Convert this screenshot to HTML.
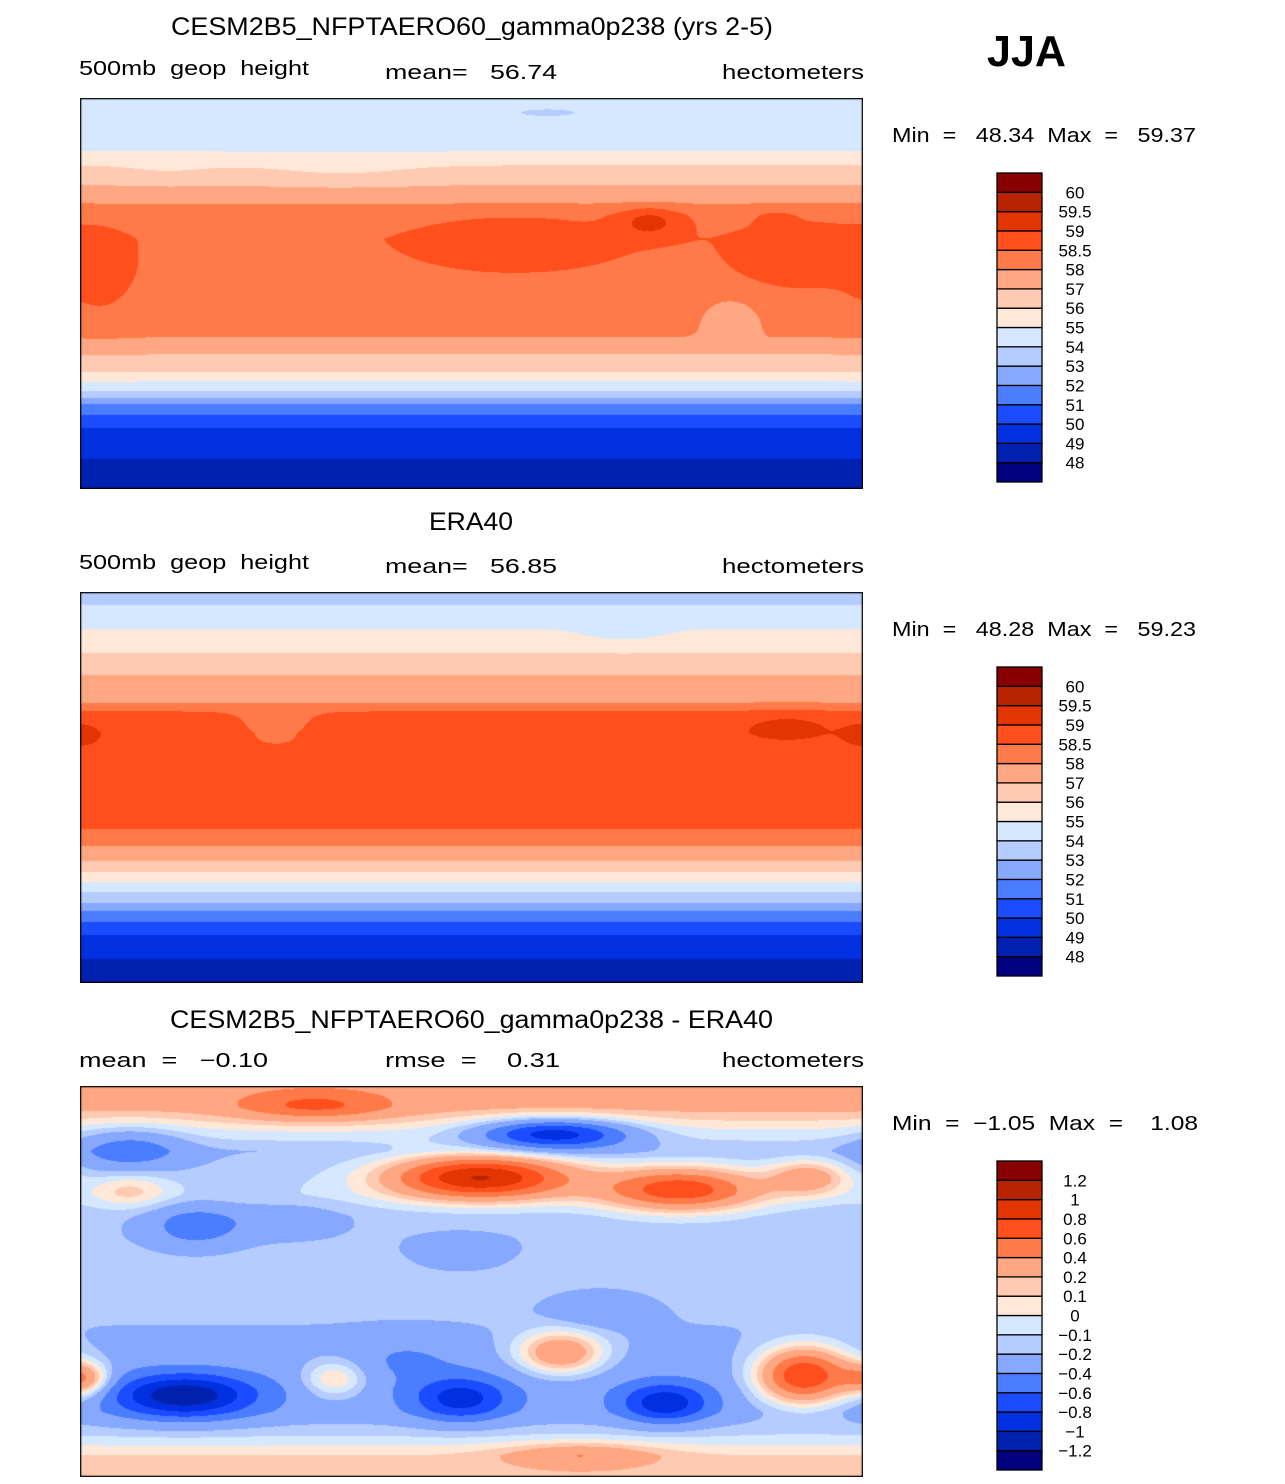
<!DOCTYPE html>
<html><head><meta charset="utf-8">
<style>
body{margin:0;background:#fff;width:1285px;height:1484px;position:relative;overflow:hidden;font-family:"Liberation Sans",sans-serif}
canvas{position:absolute;left:80px;width:783px;height:391px}
svg{position:absolute;left:0;top:0}
svg text{white-space:pre}
</style></head><body>
<canvas id="m1" width="783" height="391" style="top:98px"></canvas>
<canvas id="m2" width="783" height="391" style="top:592px"></canvas>
<canvas id="m3" width="783" height="391" style="top:1086px"></canvas>
<svg id="ov" width="1285" height="1484" font-family="Liberation Sans, sans-serif">
<text x="171" y="35" font-size="25" textLength="602" lengthAdjust="spacingAndGlyphs">CESM2B5_NFPTAERO60_gamma0p238 (yrs 2-5)</text>
<text x="987" y="66" font-size="44" font-weight="bold" textLength="79" lengthAdjust="spacingAndGlyphs">JJA</text>
<text x="79" y="75" font-size="20" textLength="230" lengthAdjust="spacingAndGlyphs">500mb  geop  height</text>
<text x="385" y="79" font-size="20" textLength="172" lengthAdjust="spacingAndGlyphs">mean=   56.74</text>
<text x="722" y="79" font-size="20" textLength="142" lengthAdjust="spacingAndGlyphs">hectometers</text>
<text x="892" y="142" font-size="20" textLength="304" lengthAdjust="spacingAndGlyphs">Min  =   48.34  Max  =   59.37</text>
<text x="429" y="530" font-size="25" textLength="84" lengthAdjust="spacingAndGlyphs">ERA40</text>
<text x="79" y="569" font-size="20" textLength="230" lengthAdjust="spacingAndGlyphs">500mb  geop  height</text>
<text x="385" y="573" font-size="20" textLength="172" lengthAdjust="spacingAndGlyphs">mean=   56.85</text>
<text x="722" y="573" font-size="20" textLength="142" lengthAdjust="spacingAndGlyphs">hectometers</text>
<text x="892" y="636" font-size="20" textLength="304" lengthAdjust="spacingAndGlyphs">Min  =   48.28  Max  =   59.23</text>
<text x="170" y="1028" font-size="25" textLength="603" lengthAdjust="spacingAndGlyphs">CESM2B5_NFPTAERO60_gamma0p238 - ERA40</text>
<text x="79" y="1067" font-size="20" textLength="189" lengthAdjust="spacingAndGlyphs">mean  =   −0.10</text>
<text x="385" y="1067" font-size="20" textLength="175" lengthAdjust="spacingAndGlyphs">rmse  =    0.31</text>
<text x="722" y="1067" font-size="20" textLength="142" lengthAdjust="spacingAndGlyphs">hectometers</text>
<text x="892" y="1130" font-size="20" textLength="306" lengthAdjust="spacingAndGlyphs">Min  =  −1.05  Max  =    1.08</text>
</svg>
<script>
const colors=["#000080","#0020b0","#0030e0","#1c4cff","#4a7dff","#86a8ff","#b4ccff","#d6e8ff","#ffe8d8","#ffcab2","#ffa682","#ff7a48","#ff4f1c","#e23500","#b82300","#880000"];
const levelsAbs=[48,49,50,51,52,53,54,55,56,57,58,58.5,59,59.5,60];
const levelsDiff=[-1.2,-1,-0.8,-0.6,-0.4,-0.2,-0.1,0,0.1,0.2,0.4,0.6,0.8,1,1.2];
const labelsAbs=["48","49","50","51","52","53","54","55","56","57","58","58.5","59","59.5","60"];
const labelsDiff=["−1.2","−1","−0.8","−0.6","−0.4","−0.2","−0.1","0","0.1","0.2","0.4","0.6","0.8","1","1.2"];
// panel 1
const lat1=[90,70,65.4,59,50,41,36,25,10,0,-10,-20,-24,-28,-32,-36,-38,-40.5,-43,-45,-47,-51,-56,-62,-68,-76,-82,-90];
const val1=[54.3,54.8,55.0,56.0,57.0,58.0,58.3,58.4,58.3,58.2,58.1,58.0,57.5,57.0,56.5,56.0,55.5,55.0,54.5,54.0,53.5,52.0,51.0,50.0,49.5,49.0,48.9,48.7];
const b1Lon=[200,330,10,262,320,300,215,120,40];
const b1Lat=[22,15,5,33,33,-10,83,55,55];
const b1Amp=[0.45,0.4,0.4,0.8,0.5,-0.4,-0.6,-0.4,-0.3];
const b1Sx=[50,35,18,15,7,12,25,40,25];
const b1Sy=[14,20,22,7,4,9,3,6,5];
// panel 2
const lat2=[90,84,73,62,52,39,35,25,0,-15,-19,-27,-34,-39,-43.5,-48,-53,-57,-62,-68,-79,-90];
const val2=[53.7,54.0,55.0,56.0,57.0,58.0,58.5,58.8,58.8,58.7,58.5,58.0,57.0,56.0,55.0,54.0,53.0,52.0,51.0,50.0,49.0,48.6];
const b2Lon=[325,0,90,250];
const b2Lat=[28,25,25,70];
const b2Amp=[0.55,0.5,-0.4,-0.5];
const b2Sx=[20,10,18,22];
const b2Sy=[6,6,9,5];
// panel 3 difference
const lat3=[90,80,70,60,50,40,30,20,10,0,-10,-20,-30,-40,-50,-60,-70,-80,-90];
const val3=[0.3,0.25,0.0,-0.2,-0.15,-0.1,-0.17,-0.17,-0.15,-0.15,-0.17,-0.2,-0.25,-0.3,-0.33,-0.3,-0.12,0.1,0.15];
const b3Lon=[184,276,335,23,108,218,23,53,333,221,117,2,48,175,269,230,239,175,150,95];
const b3Lat=[48,42.5,48,42,81,68,61,25.6,-43.5,-33,-45,-45,-52.6,-54,-56,-80,-13,13,-35,28];
const b3Amp=[1.15,0.85,0.45,0.25,0.4,-0.85,-0.35,-0.35,1.1,0.65,0.4,0.6,-0.85,-0.6,-0.65,0.3,-0.2,-0.1,-0.15,-0.15];
const b3Sx=[42,36,18,18,35,35,25,22,22,20,15,12,32,22,20,35,22,30,25,25];
const b3Sy=[10,10,8,8,7,7,10,10,13,10,9,8,10,10,9,6,8,10,10,8];

function interp(lats,vals,lat){
  for(let i=0;i<lats.length-1;i++){
    if(lat<=lats[i]&&lat>=lats[i+1]){const t=(lats[i]-lat)/(lats[i]-lats[i+1]);return vals[i]+t*(vals[i+1]-vals[i]);}
  }
  return vals[vals.length-1];
}
function hex(c){return [parseInt(c.slice(1,3),16),parseInt(c.slice(3,5),16),parseInt(c.slice(5,7),16)];}
const rgb=colors.map(hex);
function draw(id,lats,vals,bl,bt,ba,bx,by,levels){
  const cv=document.getElementById(id),ctx=cv.getContext('2d');
  const img=ctx.createImageData(783,391);
  for(let py=0;py<391;py++){
    const lat=90-(py+0.5)/391*180;
    const base=interp(lats,vals,lat);
    for(let px=0;px<783;px++){
      const lon=(px+0.5)/783*360;
      let v=base;
      for(let k=0;k<bl.length;k++){
        let d=Math.abs(lon-bl[k]);if(d>180)d=360-d;
        const dx=d/bx[k],dy=(lat-bt[k])/by[k];
        v+=ba[k]*Math.exp(-(dx*dx+dy*dy));
      }
      let idx=0;while(idx<levels.length&&v>=levels[idx])idx++;
      const c=rgb[idx],o=(py*783+px)*4;
      img.data[o]=c[0];img.data[o+1]=c[1];img.data[o+2]=c[2];img.data[o+3]=255;
    }
  }
  ctx.putImageData(img,0,0);
  ctx.strokeStyle='#000';ctx.lineWidth=1.5;ctx.strokeRect(0.5,0.5,782,390);
}
draw('m1',lat1,val1,b1Lon,b1Lat,b1Amp,b1Sx,b1Sy,levelsAbs);
draw('m2',lat2,val2,b2Lon,b2Lat,b2Amp,b2Sx,b2Sy,levelsAbs);
draw('m3',lat3,val3,b3Lon,b3Lat,b3Amp,b3Sx,b3Sy,levelsDiff);

const NS='http://www.w3.org/2000/svg',ov=document.getElementById('ov');
function colorbar(top,labels,name){
  const h=309/16;
  for(let i=0;i<16;i++){
    const r=document.createElementNS(NS,'rect');
    
    
    r.setAttribute('x',997);r.setAttribute('y',top+(15-i)*h);r.setAttribute('width',45);r.setAttribute('height',h);
    r.setAttribute('fill',colors[i]);r.setAttribute('stroke','#000');r.setAttribute('stroke-width','1.3');
    ov.appendChild(r);
  }
  for(let i=0;i<labels.length;i++){
    const t=document.createElementNS(NS,'text');
    
    
    t.setAttribute('x',1075);t.setAttribute('y',top+(15-i)*h+6);
    t.setAttribute('font-size','17');t.setAttribute('text-anchor','middle');
    t.textContent=labels[i];ov.appendChild(t);
  }
}
colorbar(173,labelsAbs,'colorbar-model');
colorbar(667,labelsAbs,'colorbar-era40');
colorbar(1161,labelsDiff,'colorbar-difference');
</script>
</body></html>
